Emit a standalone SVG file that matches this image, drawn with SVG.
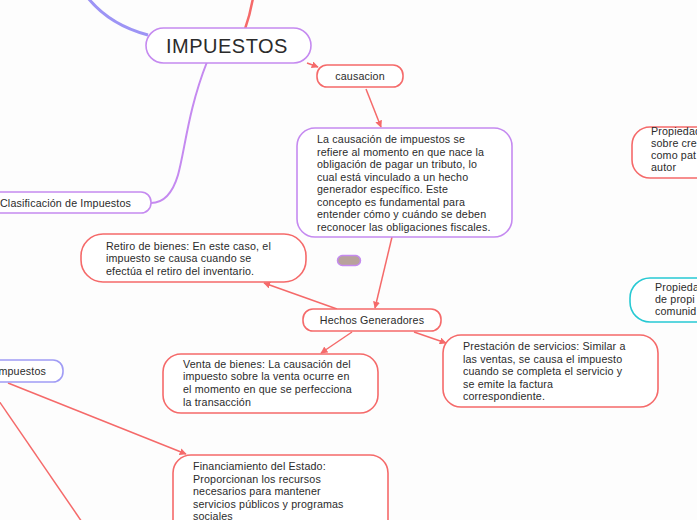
<svg xmlns="http://www.w3.org/2000/svg" width="697" height="520" viewBox="0 0 697 520">
<defs>
<marker id="arr" viewBox="0 0 10 10" refX="9" refY="5" markerWidth="7" markerHeight="7" orient="auto" markerUnits="userSpaceOnUse">
<path d="M0,0 L10,5 L0,10 z" fill="#f56a6a"/>
</marker>
</defs>
<style>
.t{font-family:"Liberation Sans","DejaVu Sans",sans-serif;font-size:10.7px;letter-spacing:0.15px;fill:#2b2b2b}
.red{fill:#ffffff;stroke:#f56a6a;stroke-width:1.6}
.pur{fill:#ffffff;stroke:#c58af0;stroke-width:1.6}
.blu{fill:#ffffff;stroke:#a09cf5;stroke-width:1.6}
.tea{fill:#ffffff;stroke:#27c9d3;stroke-width:1.6}
.c{fill:none;stroke:#f56a6a;stroke-width:1.5}
</style>
<rect width="697" height="520" fill="#fdfdfd"/>
<g id="connectors">
<path d="M88,-2 Q110,25 148,35" fill="none" stroke="#9d94f5" stroke-width="3"/>
<path d="M253,-2 Q250,15 245,29" fill="none" stroke="#f56a6a" stroke-width="2.5"/>
<path d="M207,62 C188,110 185,150 178,175 C172,195 162,203 151,203" fill="none" stroke="#c58af0" stroke-width="2"/>
<path class="c" d="M307,63 L318,67" marker-end="url(#arr)"/>
<path class="c" d="M366,89 L381,127" marker-end="url(#arr)"/>
<path class="c" d="M392,237 L375,308" marker-end="url(#arr)"/>
<path class="c" d="M337,309 L264,283" marker-end="url(#arr)"/>
<path class="c" d="M352,332 L321,353" marker-end="url(#arr)"/>
<path class="c" d="M414,332 L446,343" marker-end="url(#arr)"/>
<path class="c" d="M8,383 L186,454" marker-end="url(#arr)"/>
<path class="c" d="M-1,401 L82,522"/>
</g>
<g id="impuestos">
<rect class="pur" x="146" y="28" width="165" height="35" rx="17.5"/>
<text x="227" y="53" text-anchor="middle" style="font-family:'Liberation Sans',sans-serif;font-size:20px;letter-spacing:0.5px;fill:#2b2b2b">IMPUESTOS</text>
</g>
<g id="causacion">
<rect class="red" x="317" y="65" width="86" height="22" rx="10"/>
<text class="t" x="360" y="79.5" text-anchor="middle">causacion</text>
</g>
<g id="definicion">
<rect class="pur" x="297" y="128" width="215" height="109" rx="18"/>
<text class="t" x="317" y="143">La causación de impuestos se</text>
<text class="t" x="317" y="155.5">refiere al momento en que nace la</text>
<text class="t" x="317" y="168">obligación de pagar un tributo, lo</text>
<text class="t" x="317" y="180.5">cual está vinculado a un hecho</text>
<text class="t" x="317" y="193">generador específico. Este</text>
<text class="t" x="317" y="205.5">concepto es fundamental para</text>
<text class="t" x="317" y="218">entender cómo y cuándo se deben</text>
<text class="t" x="317" y="230.5">reconocer las obligaciones fiscales.</text>
</g>
<g id="pill">
<rect x="337.5" y="255.5" width="23" height="10" rx="5" fill="#b8a29c" stroke="#c58af0" stroke-width="1.5"/>
</g>
<g id="clasificacion">
<rect class="pur" x="-20" y="192" width="171" height="21" rx="10"/>
<text class="t" x="0" y="206.5">Clasificación de Impuestos</text>
</g>
<g id="retiro">
<rect class="red" x="81" y="234" width="225" height="48" rx="22"/>
<text class="t" x="106" y="249.5">Retiro de bienes: En este caso, el</text>
<text class="t" x="106" y="262">impuesto se causa cuando se</text>
<text class="t" x="106" y="274.5">efectúa el retiro del inventario.</text>
</g>
<g id="hechos">
<rect class="red" x="303" y="309" width="138" height="22" rx="10"/>
<text class="t" x="372" y="323.5" text-anchor="middle">Hechos Generadores</text>
</g>
<g id="venta">
<rect class="red" x="163" y="354" width="215" height="59" rx="18"/>
<text class="t" x="183" y="367.5">Venta de bienes: La causación del</text>
<text class="t" x="183" y="380">impuesto sobre la venta ocurre en</text>
<text class="t" x="183" y="393">el momento en que se perfecciona</text>
<text class="t" x="183" y="405.5">la transacción</text>
</g>
<g id="prestacion">
<rect class="red" x="443" y="335" width="215" height="72" rx="18"/>
<text class="t" x="463" y="350">Prestación de servicios: Similar a</text>
<text class="t" x="463" y="362.5">las ventas, se causa el impuesto</text>
<text class="t" x="463" y="375">cuando se completa el servicio y</text>
<text class="t" x="463" y="387.5">se emite la factura</text>
<text class="t" x="463" y="400">correspondiente.</text>
</g>
<g id="propiedad1">
<rect class="red" x="632" y="127" width="120" height="51" rx="18"/>
<text class="t" x="651" y="134.5">Propiedad</text>
<text class="t" x="651" y="146.5">sobre cre</text>
<text class="t" x="651" y="158.5">como pat</text>
<text class="t" x="651" y="170.5">autor</text>
</g>
<g id="propiedad2">
<rect class="tea" x="630" y="278" width="120" height="44" rx="20"/>
<text class="t" x="655" y="291">Propiedad</text>
<text class="t" x="655" y="303">de propi</text>
<text class="t" x="655" y="315">comunid</text>
</g>
<g id="impuestos-izq">
<rect class="blu" x="-40" y="360" width="103" height="22" rx="10"/>
<text class="t" x="46" y="374.5" text-anchor="end">Impuestos</text>
</g>
<g id="financiamiento">
<rect class="red" x="173" y="455" width="215" height="90" rx="18"/>
<text class="t" x="193" y="470">Financiamiento del Estado:</text>
<text class="t" x="193" y="482.5">Proporcionan los recursos</text>
<text class="t" x="193" y="495">necesarios para mantener</text>
<text class="t" x="193" y="507.5">servicios públicos y programas</text>
<text class="t" x="193" y="520">sociales</text>
</g>
</svg>
